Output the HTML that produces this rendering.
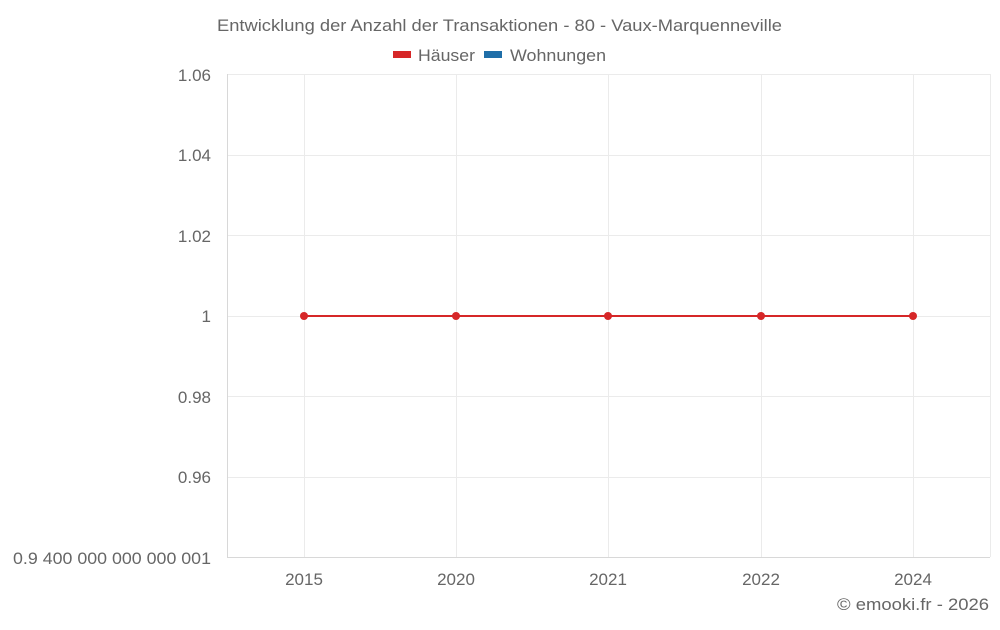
<!DOCTYPE html>
<html><head><meta charset="utf-8"><style>
body{margin:0;background:#fff;}
svg text{font-family:"Liberation Sans",sans-serif;fill:#666;}
</style></head><body>
<svg width="1000" height="625" viewBox="0 0 1000 625" xmlns="http://www.w3.org/2000/svg">
<rect width="1000" height="625" fill="#fff"/>
<text x="217" y="31" font-size="17" textLength="565" lengthAdjust="spacingAndGlyphs">Entwicklung der Anzahl der Transaktionen - 80 - Vaux-Marquenneville</text>
<rect x="393" y="51" width="18" height="7" fill="#d62728"/>
<text x="418" y="61" font-size="17" textLength="57" lengthAdjust="spacingAndGlyphs">Häuser</text>
<rect x="484" y="51" width="18" height="7" fill="#1f6ea8"/>
<text x="510" y="61" font-size="17" textLength="96" lengthAdjust="spacingAndGlyphs">Wohnungen</text>
<g stroke="#ebebeb" stroke-width="1">
<line x1="227" y1="74.5" x2="990" y2="74.5"/>
<line x1="227" y1="155.5" x2="990" y2="155.5"/>
<line x1="227" y1="235.5" x2="990" y2="235.5"/>
<line x1="227" y1="316.5" x2="990" y2="316.5"/>
<line x1="227" y1="396.5" x2="990" y2="396.5"/>
<line x1="227" y1="477.5" x2="990" y2="477.5"/>
<line x1="304.5" y1="74" x2="304.5" y2="557"/>
<line x1="456.5" y1="74" x2="456.5" y2="557"/>
<line x1="608.5" y1="74" x2="608.5" y2="557"/>
<line x1="761.5" y1="74" x2="761.5" y2="557"/>
<line x1="913.5" y1="74" x2="913.5" y2="557"/>
<line x1="990.5" y1="74" x2="990.5" y2="557"/>
</g>
<line x1="227.5" y1="74" x2="227.5" y2="557" stroke="#d8d8d8"/>
<line x1="227" y1="557.5" x2="990" y2="557.5" stroke="#d8d8d8"/>
<g font-size="17" text-anchor="end">
<text x="211" y="81">1.06</text>
<text x="211" y="161">1.04</text>
<text x="211" y="242">1.02</text>
<text x="211" y="322">1</text>
<text x="211" y="403">0.98</text>
<text x="211" y="483">0.96</text>
</g>
<text x="13" y="564" font-size="17" textLength="198" lengthAdjust="spacingAndGlyphs">0.9 400 000 000 000 001</text>
<g font-size="17" text-anchor="middle">
<text x="304" y="585">2015</text>
<text x="456" y="585">2020</text>
<text x="608" y="585">2021</text>
<text x="761" y="585">2022</text>
<text x="913" y="585">2024</text>
</g>
<line x1="304" y1="316" x2="913" y2="316" stroke="#d62728" stroke-width="2"/>
<g fill="#d62728">
<circle cx="304" cy="316" r="4"/><circle cx="456" cy="316" r="4"/><circle cx="608" cy="316" r="4"/><circle cx="761" cy="316" r="4"/><circle cx="913" cy="316" r="4"/>
</g>
<text x="837" y="610" font-size="17" textLength="152" lengthAdjust="spacingAndGlyphs">© emooki.fr - 2026</text>
</svg>
</body></html>
